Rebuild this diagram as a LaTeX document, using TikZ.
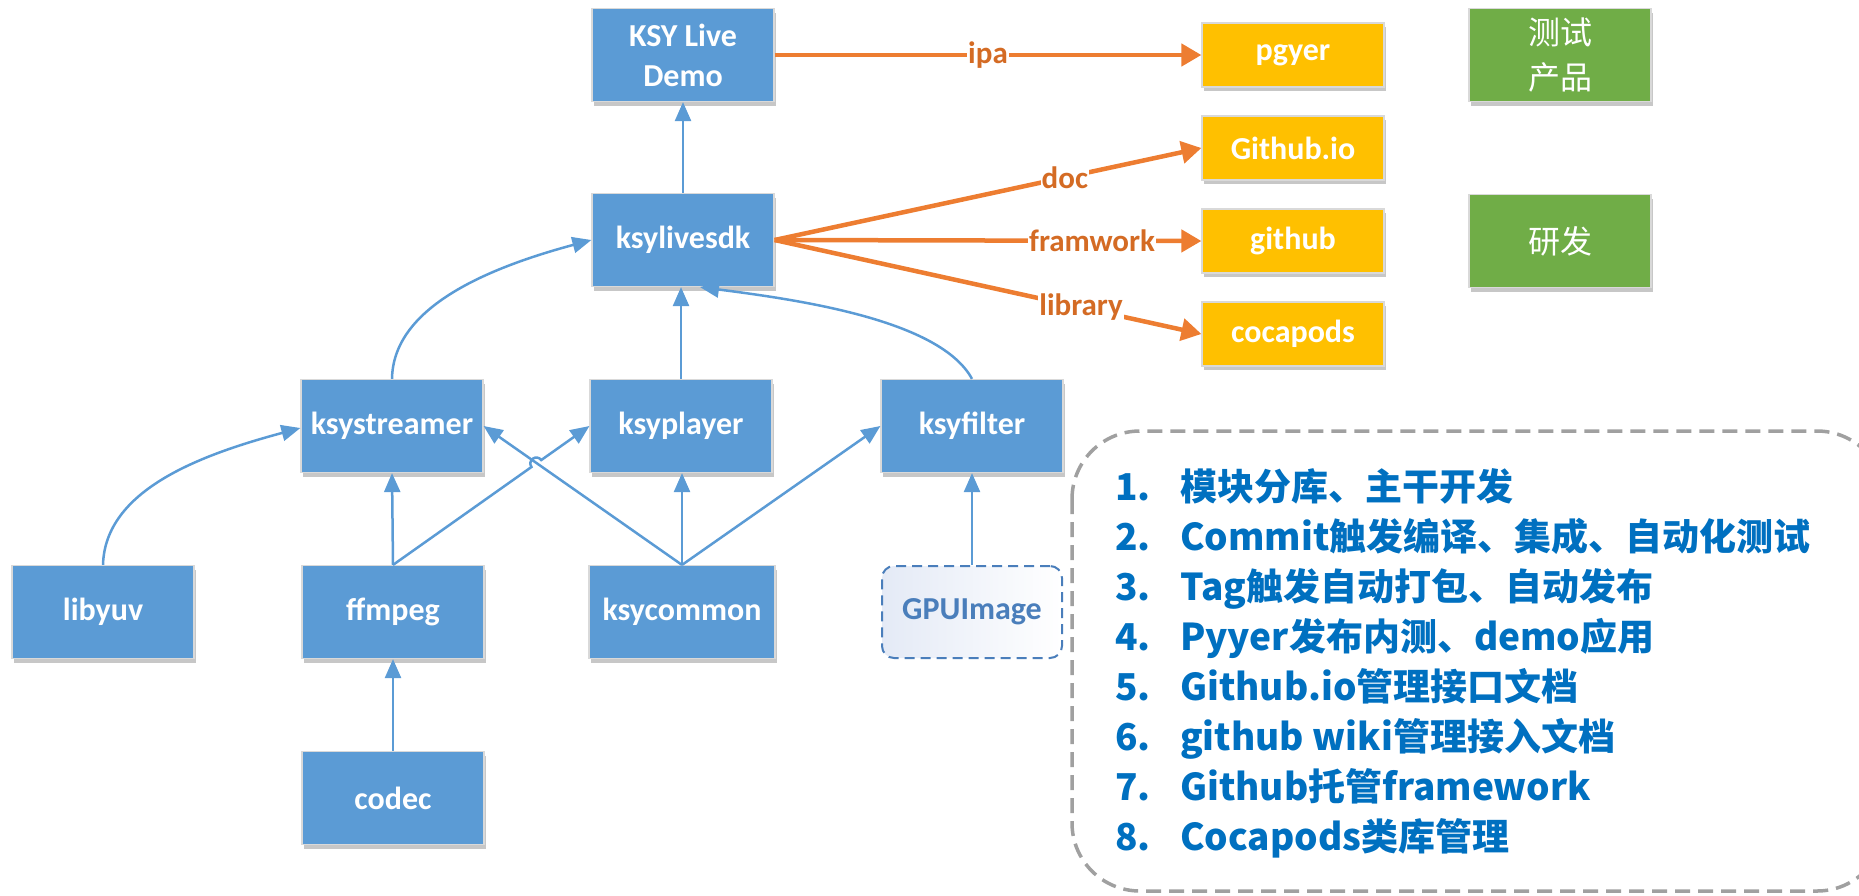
\documentclass[tikz,border=0pt]{standalone}
\usepackage{fontspec}
\setmainfont{Carlito}
\newfontfamily\cjk{Noto Sans CJK SC}
\usetikzlibrary{arrows.meta,shadows,calc}
\definecolor{boxblue}{HTML}{5B9BD5}
\definecolor{boxyellow}{HTML}{FFC000}
\definecolor{boxgreen}{HTML}{70AD47}
\definecolor{lineorange}{HTML}{ED7D31}
\definecolor{laborange}{HTML}{D46B24}
\definecolor{listblue}{HTML}{0070C0}
\definecolor{gpublue}{HTML}{4A7EBB}
\definecolor{gpufill}{HTML}{E4EAF6}
\definecolor{dashgrey}{HTML}{A0A0A0}
\begin{document}
\begin{tikzpicture}[x=1pt,y=-1pt,
  box/.style={draw=black!15, line width=1.2pt, text=white, align=center, inner sep=0pt,
    font=\fontsize{32}{40}\selectfont\bfseries,
    drop shadow={shadow xshift=1.5pt, shadow yshift=-4pt, opacity=0.22, fill=black}},
  bluebox/.style={box, fill=boxblue, minimum width=182pt, minimum height=93pt},
  yellowbox/.style={box, fill=boxyellow, minimum width=182pt, minimum height=64pt},
  greenbox/.style={box, fill=boxgreen, minimum width=182pt, minimum height=93pt,
    font=\cjk\fontsize{32}{45}\selectfont},
  gpubox/.style={draw=gpublue, line width=2pt, dash pattern=on 10pt off 6pt,
    rounded corners=12pt, left color=gpufill, right color=white, text=gpublue,
    font=\fontsize{32}{40}\selectfont\bfseries, inner sep=0pt,
    minimum width=180pt, minimum height=92pt},
  conn/.style={draw=boxblue, line width=2.5pt, -{Triangle[length=19pt,width=16pt]}},
  oconn/.style={draw=lineorange, line width=4.5pt, -{Triangle[length=20pt,width=22pt]}},
  lab/.style={fill=white, text=laborange, inner sep=1pt, font=\fontsize{31}{31}\selectfont\bfseries},
  groupbox/.style={draw=dashgrey, line width=3.5pt, dash pattern=on 15pt off 8pt, rounded corners=68pt}
]
\useasboundingbox (0,0) rectangle (1859,895);

% nodes
\node[bluebox] (demo) at (683,55) {KSY Live\\Demo};
\node[bluebox] (sdk) at (683,240) {ksylivesdk};
\node[bluebox] (streamer) at (392,426) {ksystreamer};
\node[bluebox] (player) at (681,426) {ksyplayer};
\node[bluebox] (filter) at (972,426) {ksyfilter};
\node[bluebox] (libyuv) at (103,612) {libyuv};
\node[bluebox] (ffmpeg) at (393,612) {ffmpeg};
\node[bluebox, minimum width=186pt] (common) at (682,612) {ksycommon};
\node[gpubox] (gpu) at (972,612) {GPUImage};
\node[bluebox] (codec) at (393,798) {codec};

\node[yellowbox] (pgyer) at (1293,55) {pgyer};
\node[yellowbox] (gio) at (1293,148) {Github.io};
\node[yellowbox] (github) at (1293,241) {github};
\node[yellowbox] (pods) at (1293,334) {cocapods};

\node[greenbox] (test) at (1560,55) {测试\\产品};
\node[greenbox] (dev) at (1560,241) {研发};

% blue connectors
\draw[conn] (sdk.north) -- (demo.south);
\draw[conn] (player.north) -- (sdk.south -| player.north);
\draw[conn] (streamer.north) .. controls (393,310) and (480,270) .. (sdk.west);
\draw[conn] (filter.north) .. controls (940,320) and (800,300) .. ([xshift=17pt]sdk.south);
\draw[conn] (libyuv.north) .. controls (105,490) and (200,455) .. ([yshift=-2pt]streamer.west);
\draw[conn] (ffmpeg.north) -- (streamer.south);
\draw[conn] (common.north) -- (streamer.east);
\draw[conn] (ffmpeg.north) -- ($(ffmpeg.north)!0.705!(player.west)$)
  arc[start angle=215.3, end angle=35.3, radius=6pt] -- (player.west);
\draw[conn] (common.north) -- (common.north |- player.south);
\draw[conn] (common.north) -- (filter.west);
\draw[conn] (gpu.north) -- (filter.south);
\draw[conn] (codec.north) -- (ffmpeg.south);

% orange connectors
\draw[oconn] (demo.east) -- node[lab, pos=0.5] {ipa} (pgyer.west);
\draw[oconn] (sdk.east) -- node[lab, pos=0.68] {doc} (gio.west);
\draw[oconn] (sdk.east) -- node[lab, pos=0.744] {framwork} (github.west);
\draw[oconn] (sdk.east) -- node[lab, pos=0.718] {library} (pods.west);

% group with list
\draw[groupbox] (1072,431) rectangle (1885,891);
\node[anchor=base west, text=listblue, font=\cjk\bfseries\fontsize{37}{50}\selectfont, inner sep=0pt] (list) at (1115,500)
{\begin{tabular}[t]{@{}p{65pt}@{}l@{}}
1. & 模块分库、主干开发\\
2. & Commit触发编译、集成、自动化测试\\
3. & Tag触发自动打包、自动发布\\
4. & Pyyer发布内测、demo应用\\
5. & Github.io管理接口文档\\
6. & github wiki管理接入文档\\
7. & Github托管framework\\
8. & Cocapods类库管理
\end{tabular}};
\end{tikzpicture}
\end{document}
